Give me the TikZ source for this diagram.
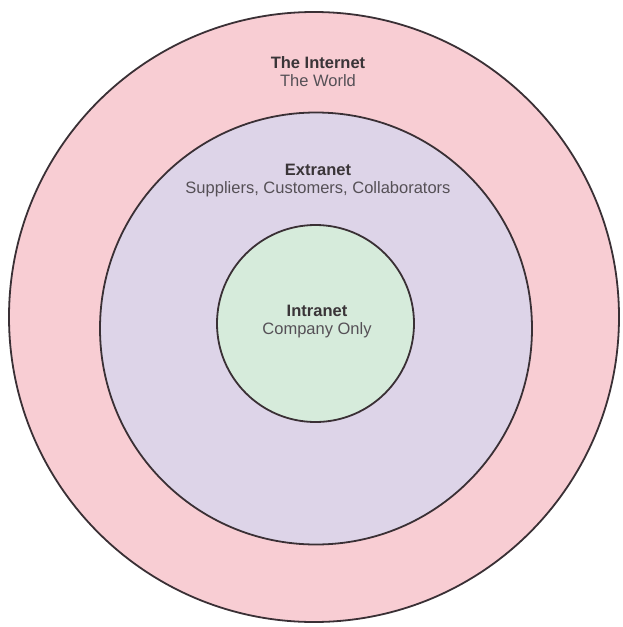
\documentclass[tikz,border=0pt]{standalone}
\usepackage{fontspec}
\setmainfont{Liberation Sans}
\definecolor{worldfill}{HTML}{F8CDD3}
\definecolor{extrafill}{HTML}{DDD4E8}
\definecolor{intrafill}{HTML}{D6EBDB}
\definecolor{ringline}{HTML}{3A3035}
\definecolor{labeltext}{HTML}{555056}
\definecolor{titletext}{HTML}{3A3538}
\tikzset{
  ring/.style={draw=ringline, line width=1.8pt},
  zonelabel/.style={align=center, text=labeltext, inner sep=0pt,
    font=\fontsize{16.5}{18}\selectfont}
}
\newcommand{\zonetitle}[1]{{\bfseries\color{titletext}#1}}
\begin{document}
\begin{tikzpicture}[x=1pt,y=-1pt]
  \useasboundingbox (0,0) rectangle (622,627);
  \fill[white] (0,0) rectangle (622,627);
  % nested zones, outermost first
  \draw[ring, fill=worldfill] (314,317) circle (305);
  \draw[ring, fill=extrafill] (316,328.5) circle (216);
  \draw[ring, fill=intrafill] (315.5,323.5) circle (98.5);
  % labels
  \node[zonelabel] (internet) at (318,72) {\zonetitle{The Internet}\\The World};
  \node[zonelabel] (extranet) at (318,181) {\zonetitle{Extranet}\\Suppliers, Customers, Collaborators};
  \node[zonelabel] (intranet) at (317,322) {\zonetitle{Intranet}\\Company Only};
\end{tikzpicture}
\end{document}
